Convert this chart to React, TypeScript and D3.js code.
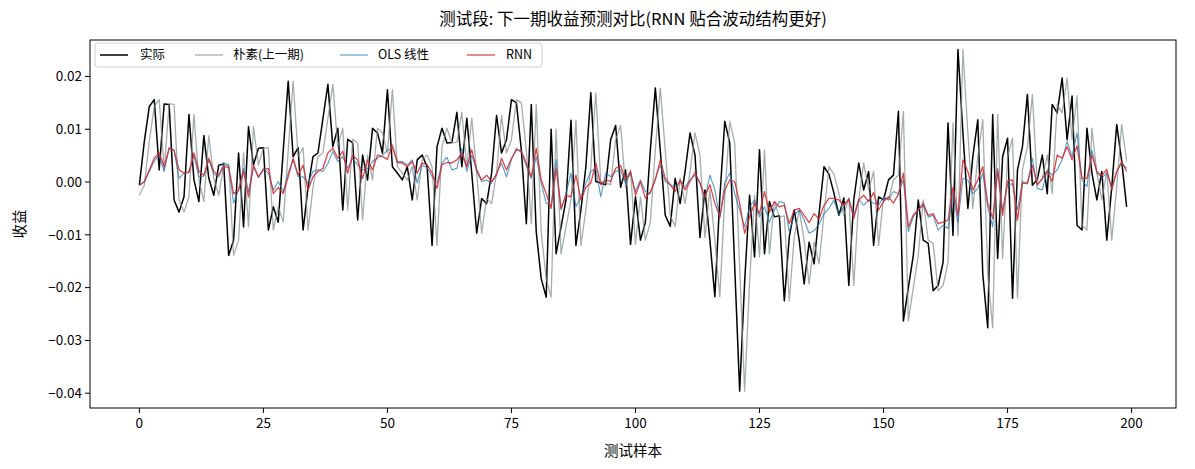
import React from 'react';
import * as d3 from 'd3';

// 实际收益（测试段）
const actual = [
  -0.0006, 0.0077, 0.0143, 0.0156, 0.0023, 0.0148, 0.0147, -0.0034, -0.0057, -0.0028,
  0.0128, 0.0004, -0.0037, 0.0088, 0.0007, -0.0025, 0.0032, 0.0034, -0.0139, -0.011,
  0.0055, -0.0085, 0.0105, 0.0032, 0.0064, 0.0065, -0.0091, -0.0047, -0.0076, 0.006,
  0.0191, 0.0048, 0.0065, -0.0091, -0.001, 0.0048, 0.0055, 0.012, 0.0185, 0.0067,
  0.0102, -0.0053, 0.0081, 0.0074, -0.0072, 0.0051, 0.0004, 0.0102, 0.0093, 0.0055,
  0.0175, 0.0029, 0.0017, 0.0004, 0.0029, -0.0034, 0.0042, 0.0051, 0.0029, -0.012,
  0.0067, 0.0102, 0.0074, 0.0075, 0.0132, 0.0029, 0.0121, 0.0017, -0.0097, -0.0031,
  -0.0041, 0.0017, 0.0126, 0.0055, 0.008, 0.0156, 0.015, 0.006, -0.0079, 0.0147,
  -0.0095, -0.0183, -0.0218, 0.01, -0.0136, -0.0085, -0.0034, 0.0117, -0.012, -0.0053,
  0.0029, 0.0169, 0.0001, -0.0002, -0.0005, 0.008, 0.0107, -0.001, 0.0023, -0.0118,
  -0.0028, -0.011, -0.0076, 0.0061, 0.0178, 0.006, -0.0063, -0.0084, 0.0007, -0.0041,
  0.002, 0.0093, 0.0051, -0.0105, -0.0015, -0.011, -0.0217, -0.003, 0.0115, 0.0074,
  -0.016, -0.0396, -0.019, -0.0025, -0.0142, 0.0061, -0.0136, -0.0037, -0.0066, -0.0064,
  -0.0225, -0.0104, -0.0053, -0.011, -0.0193, -0.0114, -0.0155, -0.006, 0.0029, 0.0015,
  -0.0021, -0.0063, -0.003, -0.0196, -0.0034, 0.0036, -0.0015, 0.002, -0.012, -0.0028,
  -0.0034, 0.0004, 0.0013, 0.0134, -0.0263, -0.02, -0.0139, -0.0034, -0.011, -0.0116,
  -0.0206, -0.0196, -0.0152, 0.0112, -0.0101, 0.0251, 0.0093, -0.005, 0.0048, 0.0118,
  -0.0174, -0.0276, 0.0128, -0.0145, 0.0048, 0.0083, -0.022, 0.0023, 0.0067, 0.0166,
  -0.0006, 0.0005, 0.0051, -0.0022, 0.0147, 0.0131, 0.0197, 0.008, 0.0163, -0.0082,
  -0.0091, 0.0102, 0.0017, -0.0034, 0.002, -0.011, -0.001, 0.0109, 0.004, -0.0047,
];

// 朴素预测 = 上一期实际值
const naiveFirst = -0.0025;
const naive = [naiveFirst, ...actual.slice(0, -1)];

const ols = [
  -0.0006, 0.0, 0.002, 0.004, 0.005, 0.002, 0.0065, 0.006, 0.0007, 0.0017,
  0.002, 0.005, 0.001, 0.0011, 0.0042, 0.0015, 0.001, 0.0037, 0.003, -0.004,
  -0.0015, 0.0026, -0.0018, 0.0029, 0.0008, 0.0026, 0.0017, -0.0015, 0.0001, -0.0018,
  0.0017, 0.0042, 0.001, 0.001, -0.0002, 0.002, 0.0023, 0.002, 0.0035, 0.0058,
  0.0039, 0.0048, 0.0026, 0.0045, 0.0032, 0.0023, 0.0026, 0.0039, 0.0045, 0.0051,
  0.006, 0.0064, 0.0039, 0.0039, 0.0032, 0.0042, -0.0002, 0.0032, 0.0027, 0.001,
  -0.0002, 0.0036, 0.0047, 0.0023, 0.0026, 0.0064, 0.002, 0.0051, 0.002, 0.0001,
  0.0004, -0.0002, 0.0017, 0.0036, 0.001, 0.0042, 0.0064, 0.0056, 0.003, 0.0007,
  0.0048, -0.0002, -0.004, -0.0044, 0.0042, -0.0053, -0.0022, 0.0017, -0.0047, -0.0028,
  -0.0002, 0.002, 0.0026, -0.0028, 0.0017, 0.001, 0.002, 0.0023, -0.0002, 0.0017,
  -0.0018, 0.0004, -0.0018, -0.0022, 0.0007, 0.0032, 0.0001, -0.0005, -0.0009, 0.0001,
  -0.0009, 0.0004, 0.0013, -0.0002, -0.0031, 0.0013, -0.0015, -0.0068, -0.0002, 0.0017,
  -0.0022, -0.0053, -0.0085, -0.0047, -0.0034, -0.0066, -0.0047, -0.0076, -0.0053, -0.0037,
  -0.004, -0.0094, -0.0063, -0.0053, -0.0072, -0.0097, -0.0092, -0.008, -0.006, -0.005,
  -0.0034, -0.0063, -0.0047, -0.0031, -0.0063, -0.0033, -0.0044, -0.0034, -0.004, -0.0044,
  -0.0028, -0.0034, -0.0018, -0.0022, 0.0004, -0.0094, -0.0066, -0.0053, -0.0044, -0.0066,
  -0.0063, -0.0091, -0.0082, -0.0088, -0.0022, -0.0076, 0.0007, 0.0004, -0.0022, -0.0012,
  0.0017, -0.0047, -0.0085, 0.0026, -0.0053, -0.0004, -0.0004, -0.0053, 0.0001, -0.0002,
  0.0045, -0.0012, -0.0015, 0.0023, 0.0013, 0.0023, 0.0042, 0.0077, 0.0048, 0.0093,
  0.0004, -0.0009, 0.0061, 0.0017, 0.0008, 0.0017, -0.001, 0.002, 0.0036, 0.0026,
];

const rnn = [
  -0.0006, 0.0001, 0.0023, 0.0045, 0.0055, 0.0029, 0.0064, 0.006, 0.0023, 0.0017,
  0.0018, 0.0055, 0.002, 0.0013, 0.0045, 0.002, 0.0013, 0.0029, 0.0028, -0.0022,
  -0.0015, 0.002, -0.0028, 0.0032, 0.001, 0.0023, 0.0026, -0.0022, -0.001, -0.0022,
  0.001, 0.0045, 0.0013, 0.0032, -0.0015, 0.001, 0.002, 0.0026, 0.0055, 0.0064,
  0.0045, 0.0058, 0.0017, 0.0051, 0.0042, 0.0007, 0.0042, 0.0023, 0.0051, 0.0048,
  0.0043, 0.007, 0.0037, 0.0036, 0.0029, 0.0039, 0.0017, 0.0036, 0.0033, 0.0017,
  -0.0012, 0.0033, 0.0037, 0.0036, 0.0042, 0.0055, 0.0029, 0.0061, 0.0023, 0.0004,
  0.0013, 0.0001, 0.0013, 0.0045, 0.0023, 0.0045, 0.0061, 0.0059, 0.0035, 0.001,
  0.0064, 0.0004, -0.0022, -0.005, 0.0026, -0.005, -0.0025, -0.0028, 0.0013, -0.0034,
  -0.001, -0.0002, 0.0036, -0.0005, 0.0004, 0.0001, 0.0026, 0.0031, 0.0004, 0.002,
  -0.0025, 0.0001, -0.0031, -0.0018, 0.0004, 0.0042, 0.0007, -0.0005, -0.0018, 0.0004,
  -0.0015, 0.0001, 0.0018, -0.0002, -0.0028, -0.0005, -0.004, -0.0066, -0.0015, 0.0004,
  0.0001, -0.004, -0.0097, -0.0066, -0.004, -0.006, -0.0018, -0.0057, -0.0037, -0.0047,
  -0.0044, -0.0079, -0.0053, -0.005, -0.0063, -0.0077, -0.006, -0.007, -0.0044, -0.0031,
  -0.0031, -0.0034, -0.0044, -0.0033, -0.0069, -0.0034, -0.0025, -0.0037, -0.002, -0.0053,
  -0.0037, -0.0028, -0.004, -0.0023, 0.0017, -0.0085, -0.0062, -0.0053, -0.004, -0.0063,
  -0.006, -0.0079, -0.0076, -0.0072, -0.001, -0.0063, 0.0042, 0.002, -0.0015, 0.0004,
  0.0029, -0.004, -0.0069, 0.0023, -0.0063, 0.0002, 0.0004, -0.0072, -0.0002, -0.0003,
  0.0032, -0.0005, 0.0007, 0.002, 0.0001, 0.0051, 0.0045, 0.0067, 0.0042, 0.0069,
  0.0007, 0.0007, 0.0051, 0.002, 0.0012, 0.0024, -0.0015, 0.002, 0.0039, 0.002,
];

const xTicks = [0, 25, 50, 75, 100, 125, 150, 175, 200];
const yTicks = [0.02, 0.01, 0.0, -0.01, -0.02, -0.03, -0.04];

const series = [
  { name: '实际', values: actual, color: '#000000', width: 1.5, opacity: 1 },
  { name: '朴素(上一期)', values: naive, color: '#7f8c8d', width: 1.3, opacity: 0.7 },
  { name: 'OLS 线性', values: ols, color: '#1f77b4', width: 1.1, opacity: 0.75 },
  { name: 'RNN', values: rnn, color: '#d62728', width: 1.3, opacity: 0.85 },
];

const W = 1195;
const H = 469;
const margin = { top: 40, right: 19, bottom: 61, left: 90 };
const font = '"Noto Sans CJK SC", "Noto Sans", sans-serif';

export default function App() {
  const x = d3
    .scaleLinear()
    .domain([-9.95, 208.95])
    .range([margin.left, W - margin.right]);
  const y = d3
    .scaleLinear()
    .domain([-0.0428, 0.0269])
    .range([H - margin.bottom, margin.top]);

  const line = d3
    .line<number>()
    .x((_, i) => x(i))
    .y((d) => y(d));

  const fmt = (v: number) => {
    const s = Math.abs(v).toFixed(2);
    return v < -1e-9 ? '\u2212' + s : s;
  };

  const plotB = H - margin.bottom;
  const plotR = W - margin.right;

  // legend layout (ncol=4)
  const legendX = margin.left + 5;
  const legendY = margin.top + 3;
  const legendItems = [
    { lx: 100, tx: 140 },
    { lx: 195, tx: 233 },
    { lx: 340, tx: 378 },
    { lx: 467, tx: 506 },
  ];

  return (
    <svg
      width={W}
      height={H}
      style={{ position: 'absolute', left: 0, top: 0, background: '#fff' }}
      fontFamily={font}
    >
      <rect x={0} y={0} width={W} height={H} fill='#fff' />
      <text x={(margin.left + plotR) / 2} y={25} textAnchor='middle' fontSize={16.5} fill='#000'>
        测试段: 下一期收益预测对比(RNN 贴合波动结构更好)
      </text>

      <clipPath id='plotclip'>
        <rect x={margin.left} y={margin.top} width={plotR - margin.left} height={plotB - margin.top} />
      </clipPath>

      <g clipPath='url(#plotclip)'>
        {series.map((s) => (
          <path
            key={s.name}
            d={line(s.values) || ''}
            fill='none'
            stroke={s.color}
            strokeWidth={s.width}
            strokeOpacity={s.opacity}
            strokeLinejoin='round'
          />
        ))}
      </g>

      {/* frame */}
      <rect
        x={margin.left}
        y={margin.top}
        width={plotR - margin.left}
        height={plotB - margin.top}
        fill='none'
        stroke='#000'
        strokeWidth={1}
      />

      {/* x axis */}
      {xTicks.map((t) => (
        <g key={t} transform={`translate(${x(t)},${plotB})`}>
          <line y2={5} stroke='#000' />
          <text y={20} textAnchor='middle' fontSize={13.5} fill='#000'>
            {t}
          </text>
        </g>
      ))}
      <text x={(margin.left + plotR) / 2} y={456} textAnchor='middle' fontSize={14.5} fill='#000'>
        测试样本
      </text>

      {/* y axis */}
      {yTicks.map((t) => (
        <g key={t} transform={`translate(${margin.left},${y(t)})`}>
          <line x2={-5} stroke='#000' />
          <text x={-8} dy='0.35em' textAnchor='end' fontSize={13.5} fill='#000'>
            {fmt(t)}
          </text>
        </g>
      ))}
      <text
        transform={`translate(25,${(margin.top + plotB) / 2}) rotate(-90)`}
        textAnchor='middle'
        fontSize={14.5}
        fill='#000'
      >
        收益
      </text>

      {/* legend */}
      <rect x={legendX} y={legendY} width={447} height={24} rx={3} fill='#fff' fillOpacity={0.8} stroke='#d0d0d0' />
      {series.map((s, i) => (
        <g key={s.name}>
          <line
            x1={legendItems[i].lx}
            x2={legendItems[i].lx + 28}
            y1={legendY + 12}
            y2={legendY + 12}
            stroke={s.color}
            strokeWidth={s.width}
            strokeOpacity={s.opacity}
          />
          <text x={legendItems[i].tx} y={legendY + 12} dy='0.35em' fontSize={12.5} fill='#000'>
            {s.name}
          </text>
        </g>
      ))}
    </svg>
  );
}
